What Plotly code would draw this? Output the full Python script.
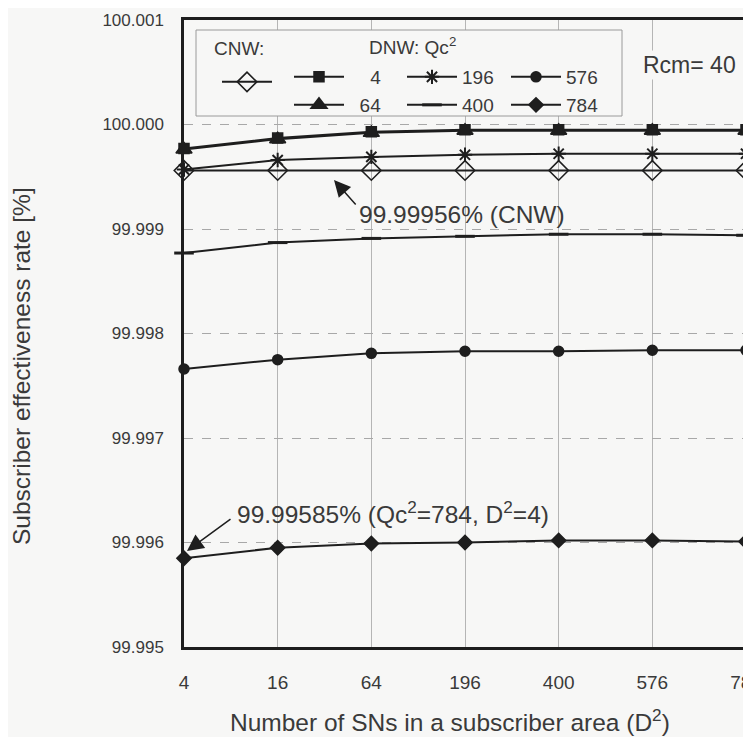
import plotly.graph_objects as go

# ---- data ----
d2_labels = ["4", "16", "64", "196", "400", "576", "784"]
cnw = [99.99956, 99.99956, 99.99956, 99.99956, 99.99956, 99.99956, 99.99956]
qc_4 = [99.99977, 99.99987, 99.99993, 99.99995, 99.99995, 99.99995, 99.99995]
qc_64 = [99.99976, 99.99986, 99.99992, 99.99994, 99.99994, 99.99994, 99.99994]
qc_196 = [99.99957, 99.99966, 99.99969, 99.99971, 99.99972, 99.99972, 99.99972]
qc_400 = [99.99877, 99.99887, 99.99891, 99.99893, 99.99895, 99.99895, 99.99894]
qc_576 = [99.99766, 99.99775, 99.99781, 99.99783, 99.99783, 99.99784, 99.99784]
qc_784 = [99.99585, 99.99595, 99.99599, 99.99600, 99.99602, 99.99602, 99.99601]
y_ticks = [99.995, 99.996, 99.997, 99.998, 99.999, 100.000, 100.001]

FONT = "Liberation Sans, Arial, sans-serif"
INK = "#1e1e1e"
TXT = "#3a3a3a"
BG = "#f7f7f6"
FS = "\u2007"  # figure space for right-aligning legend numbers

fig = go.Figure()

def add(y, name, symbol, size, legend, lw=2.0, mlw=1.5):
    fig.add_trace(go.Scatter(
        x=d2_labels, y=y, name=name, mode="lines+markers",
        line=dict(color=INK, width=lw),
        marker=dict(symbol=symbol, size=size, color=INK,
                    line=dict(color=INK, width=mlw)),
        legend=legend, cliponaxis=False,
    ))

add(cnw, "", "diamond-open", 15, "legend", mlw=1.6)
add(qc_64, FS + "64", "triangle-up", 14, "legend3")
add(qc_4, FS + FS + "4", "square", 10, "legend2")
add(qc_196, "196", "asterisk-open", 12, "legend4", mlw=2)
add(qc_400, "400", "line-ew-open", 14, "legend5", mlw=3)
add(qc_576, "576", "circle", 10, "legend6")
add(qc_784, "784", "diamond", 11, "legend7")

# The page body has an 8px margin, so the figure is offset on screen;
# positions below are given in on-screen pixels and converted.
W, H = 751, 737
L, R, T, B = 176, 13, 12, 98
pw, ph = W - L - R, H - T - B
X0 = 184  # on-screen left edge of plot area
Y1 = 647  # on-screen bottom edge of plot area

def px(xs):
    return (xs - X0) / pw

def py(ys):
    return (Y1 - ys) / ph

leg_common = dict(bgcolor="rgba(0,0,0,0)", borderwidth=0, itemwidth=50,
                  font=dict(family=FONT, size=19, color=TXT),
                  xanchor="left", yanchor="top", tracegroupgap=0,
                  itemclick=False, itemdoubleclick=False)

ROW1, ROW2 = 58, 86
COL1, COL2, COL3 = 289, 402, 506

fig.update_layout(
    width=W, height=H,
    margin=dict(l=L, r=R, t=T, b=B, autoexpand=False),
    paper_bgcolor=BG, plot_bgcolor=BG,
    font=dict(family=FONT, size=19, color=TXT),
    showlegend=True,
    legend=dict(x=px(217), y=py(63), **leg_common),
    legend2=dict(x=px(COL1), y=py(ROW1), **leg_common),
    legend3=dict(x=px(COL1), y=py(ROW2), **leg_common),
    legend4=dict(x=px(COL2), y=py(ROW1), **leg_common),
    legend5=dict(x=px(COL2), y=py(ROW2), **leg_common),
    legend6=dict(x=px(COL3), y=py(ROW1), **leg_common),
    legend7=dict(x=px(COL3), y=py(ROW2), **leg_common),
    xaxis=dict(
        type="category", categoryorder="array", categoryarray=d2_labels,
        range=[0, 6], automargin=False,
        showgrid=True, gridcolor="#b5b5b5", gridwidth=1,
        showline=True, mirror=True, linecolor=INK, linewidth=2.5,
        ticks="outside", ticklen=16, tickcolor="rgba(0,0,0,0)",
        tickfont=dict(family=FONT, size=19, color=TXT),
        zeroline=False,
    ),
    yaxis=dict(
        range=[99.995, 100.001], tickvals=y_ticks, tickformat=".3f",
        automargin=False,
        showgrid=True, gridcolor="#a8a8a8", gridwidth=1, griddash="dash",
        showline=True, mirror=True, linecolor=INK, linewidth=2.5,
        ticks="outside", ticklen=14, tickcolor="rgba(0,0,0,0)",
        tickfont=dict(family=FONT, size=17, color=TXT),
        zeroline=False,
    ),
)

# legend frame
fig.add_shape(type="rect", xref="paper", yref="paper",
              x0=px(196), x1=px(622), y0=py(116), y1=py(30),
              line=dict(color="#9a9a9a", width=1), fillcolor=BG, layer="above")

def note(x, y, text, size, **kw):
    fig.add_annotation(xref="paper", yref="paper", x=px(x), y=py(y),
                       xanchor="center", yanchor="middle", text=text,
                       showarrow=False,
                       font=dict(family=FONT, size=size, color=TXT), **kw)

def arrow(hx, hy, tx, ty):
    fig.add_annotation(xref="paper", yref="paper", x=px(hx), y=py(hy),
                       ax=tx - hx, ay=ty - hy, text="", showarrow=True,
                       arrowhead=2, arrowsize=2.2, arrowwidth=1.5,
                       arrowcolor=INK)

note(239, 48, "CNW:", 19)
note(412, 46, "DNW: Qc<sup>2</sup>", 19)
note(689, 65, "Rcm= 40", 23, bgcolor=BG)

# callouts
note(462, 214, "99.99956% (CNW)", 24.5)
arrow(334, 180, 357, 206)
note(393, 512, "99.99585% (Qc<sup>2</sup>=784, D<sup>2</sup>=4)", 24.5)
arrow(187, 551, 232, 518)

# axis titles
note(450, 720, "Number of SNs in a subscriber area (D<sup>2</sup>)", 24.5)
note(22, 366, "Subscriber effectiveness rate [%]", 24.5, textangle=-90)

fig.write_html("out.html")
